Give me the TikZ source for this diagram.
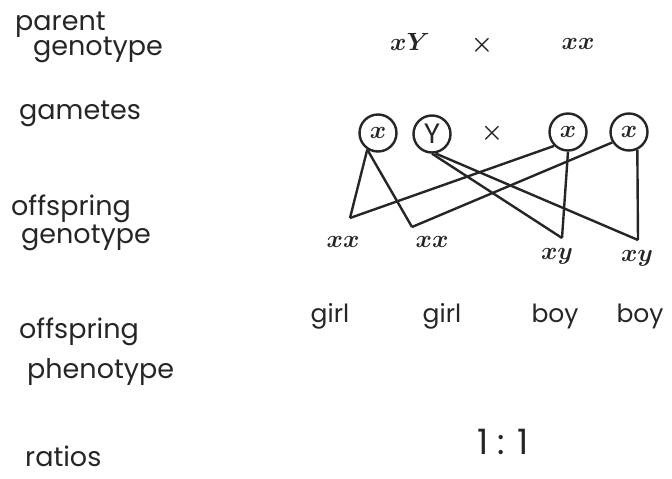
\documentclass[tikz,border=0pt]{standalone}
\usepackage{fontspec}
\setmainfont{Poppins}
\usetikzlibrary{positioning}

\begin{document}
\begin{tikzpicture}[x=1pt, y=-1pt,
    every node/.style={text=black!85, inner sep=1pt},
    rowlabel/.style={anchor=west, font=\fontsize{27}{29}\selectfont},
    allele/.style={font=\fontsize{35}{37}\selectfont\boldmath},
    pheno/.style={font=\fontsize{25}{27}\selectfont},
    gamete/.style={draw=black!85, circle, line width=2.4pt, minimum size=37pt,
                   inner sep=0pt, font=\fontsize{28}{30}\selectfont\boldmath},
    cross/.style={line width=2.4pt, black!85}]
  \useasboundingbox (0,0) rectangle (672,479);

  % Row labels
  \node[rowlabel] (parent) at (14,25) {parent};
  \node[rowlabel] (pgeno) at (32,50) {genotype};
  \node[rowlabel] (gam) at (18,114) {gametes};
  \node[rowlabel] (off1) at (10,209) {offspring};
  \node[rowlabel] (ogeno) at (20,238) {genotype};
  \node[rowlabel] (off2) at (18,332) {offspring};
  \node[rowlabel] (pheno) at (26,372) {phenotype};
  \node[rowlabel] (ratio) at (24,456) {ratios};

  % Parents
  \node[allele] (dad) at (410,42) {$xY$};
  \node[allele] (px) at (482,45) {$\times$};
  \node[allele] (mum) at (578,44) {$xx$};

  % Gametes
  \node[gamete] (g1) at (378,133) {$x$};
  \node[gamete] (g2) at (432,134) {Y};
  \node[allele] (gx) at (492,133) {$\times$};
  \node[gamete] (g3) at (568,132) {$x$};
  \node[gamete] (g4) at (629,132) {$x$};

  % Offspring genotype
  \coordinate (o1) at (350,218);
  \coordinate (o2) at (412,227);
  \coordinate (o3) at (562,238);
  \coordinate (o4) at (638,240);
  \node[allele] (k1) at (343,242) {$xx$};
  \node[allele] (k2) at (432,242) {$xx$};
  \node[allele] (k3) at (557,256) {$xy$};
  \node[allele] (k4) at (637,258) {$xy$};

  % Crossing lines
  \draw[cross] (g1.237) -- (o1);
  \draw[cross] (g1.237) -- (o2);
  \draw[cross] (g3.225) -- (o1);
  \draw[cross] (g4.212) -- (o2);
  \draw[cross] (g2.south) -- (o3);
  \draw[cross] (g2.-80) -- (o4);
  \draw[cross] (g3.south) -- (o3);
  \draw[cross] (g4.-65) -- (o4);

  % Offspring phenotype
  \node[pheno] (f1) at (330,316) {girl};
  \node[pheno] (f2) at (442,316) {girl};
  \node[pheno] (m1) at (555,316) {boy};
  \node[pheno] (m2) at (640,316) {boy};

  % Ratio
  \node[allele] (r) at (503,442) {1 : 1};
\end{tikzpicture}
\end{document}
